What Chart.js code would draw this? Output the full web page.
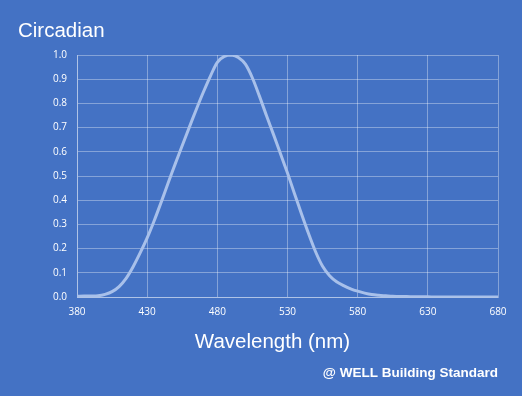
<!DOCTYPE html>
<html>
<head>
<meta charset="utf-8">
<script src="https://cdn.jsdelivr.net/npm/chart.js@4"></script>
<style>
  html, body { margin: 0; padding: 0; background: #4472C4; }
  #wrap { width: 522px; height: 396px; position: relative; }
</style>
</head>
<body>
<div id="wrap"><canvas id="c" width="522" height="396"></canvas></div>
<script>
const chartTitle = 'Circadian';
const xAxisTitle = 'Wavelength (nm)';
const sourceNote = '@ WELL Building Standard';

const wavelengths = [380,385,390,395,400,405,410,415,420,425,430,435,440,445,450,455,460,465,470,475,480,485,490,495,500,505,510,515,520,525,530,535,540,545,550,555,560,565,570,575,580,585,590,595,600,605,610,615,620,625,630,635,640,645,650,655,660,665,670,675,680];
const circadian = [0.003,0.004,0.004,0.005,0.011,0.022,0.043,0.077,0.125,0.182,0.244,0.315,0.392,0.472,0.550,0.626,0.701,0.775,0.846,0.912,0.970,0.994,1.000,0.990,0.962,0.905,0.830,0.750,0.672,0.592,0.512,0.427,0.343,0.262,0.187,0.127,0.088,0.063,0.047,0.034,0.024,0.016,0.010,0.007,0.005,0.003,0.002,0.002,0.001,0.001,0.001,0,0,0,0,0,0,0,0,0,0];
const xTicks = [380,430,480,530,580,630,680];
const yTicks = [0,0.1,0.2,0.3,0.4,0.5,0.6,0.7,0.8,0.9,1.0];

const points = wavelengths.map((w, i) => ({ x: w, y: circadian[i] }));
const gridColor = 'rgba(255,255,255,0.35)';
const textColor = '#ffffff';

const axisTitlePlugin = {
  id: 'axisTitleShift',
  afterDraw(chart) {
    const { ctx, chartArea } = chart;
    ctx.save();
    ctx.fillStyle = textColor;
    ctx.font = '20.5px "Liberation Sans", Arial, sans-serif';
    ctx.textAlign = 'center';
    ctx.textBaseline = 'middle';
    ctx.fillText(xAxisTitle, (chartArea.left + chartArea.right) / 2 - 15, 342);
    ctx.restore();
  }
};

new Chart(document.getElementById('c'), {
  type: 'line',
  data: {
    datasets: [{
      label: chartTitle,
      data: points,
      borderColor: '#a8c0ea',
      borderWidth: 3,
      pointRadius: 0,
      tension: 0.3,
      fill: false
    }]
  },
  options: {
    responsive: false,
    animation: false,
    layout: { padding: { left: 18, right: 24, top: 0, bottom: 0 } },
    plugins: {
      legend: { display: false },
      tooltip: { enabled: false },
      title: {
        display: true,
        text: chartTitle,
        align: 'start',
        color: textColor,
        font: { family: '"Liberation Sans", Arial, sans-serif', size: 20.5, weight: 'normal' },
        padding: { top: 19, bottom: 11.4 }
      },
      subtitle: {
        display: true,
        position: 'bottom',
        text: sourceNote,
        align: 'end',
        color: textColor,
        font: { family: '"Liberation Sans", Arial, sans-serif', size: 13.5, weight: 'bold' },
        padding: { top: 0, bottom: 15 }
      }
    },
    scales: {
      x: {
        type: 'linear',
        min: 380,
        max: 680,
        afterBuildTicks(scale) { scale.ticks = xTicks.map(v => ({ value: v })); },
        afterFit(scale) { scale.height = 396 - 297 - (13.5 * 1.2 + 15); },
        grid: { color: gridColor, drawTicks: false, lineWidth: 1 },
        border: { color: gridColor },
        ticks: {
          color: textColor,
          padding: 9,
          maxRotation: 0,
          font: { family: '"Open Sans", sans-serif', size: 10 },
          callback: v => String(v)
        }
      },
      y: {
        min: 0,
        max: 1,
        afterBuildTicks(scale) { scale.ticks = yTicks.map(v => ({ value: v })); },
        afterFit(scale) { scale.width = 59; },
        grid: { color: gridColor, drawTicks: false, lineWidth: 1 },
        border: { color: gridColor },
        ticks: {
          color: textColor,
          padding: 10,
          font: { family: '"Open Sans", sans-serif', size: 10 },
          callback: v => Number(v).toFixed(1)
        }
      }
    }
  },
  plugins: [axisTitlePlugin]
});
</script>
</body>
</html>
